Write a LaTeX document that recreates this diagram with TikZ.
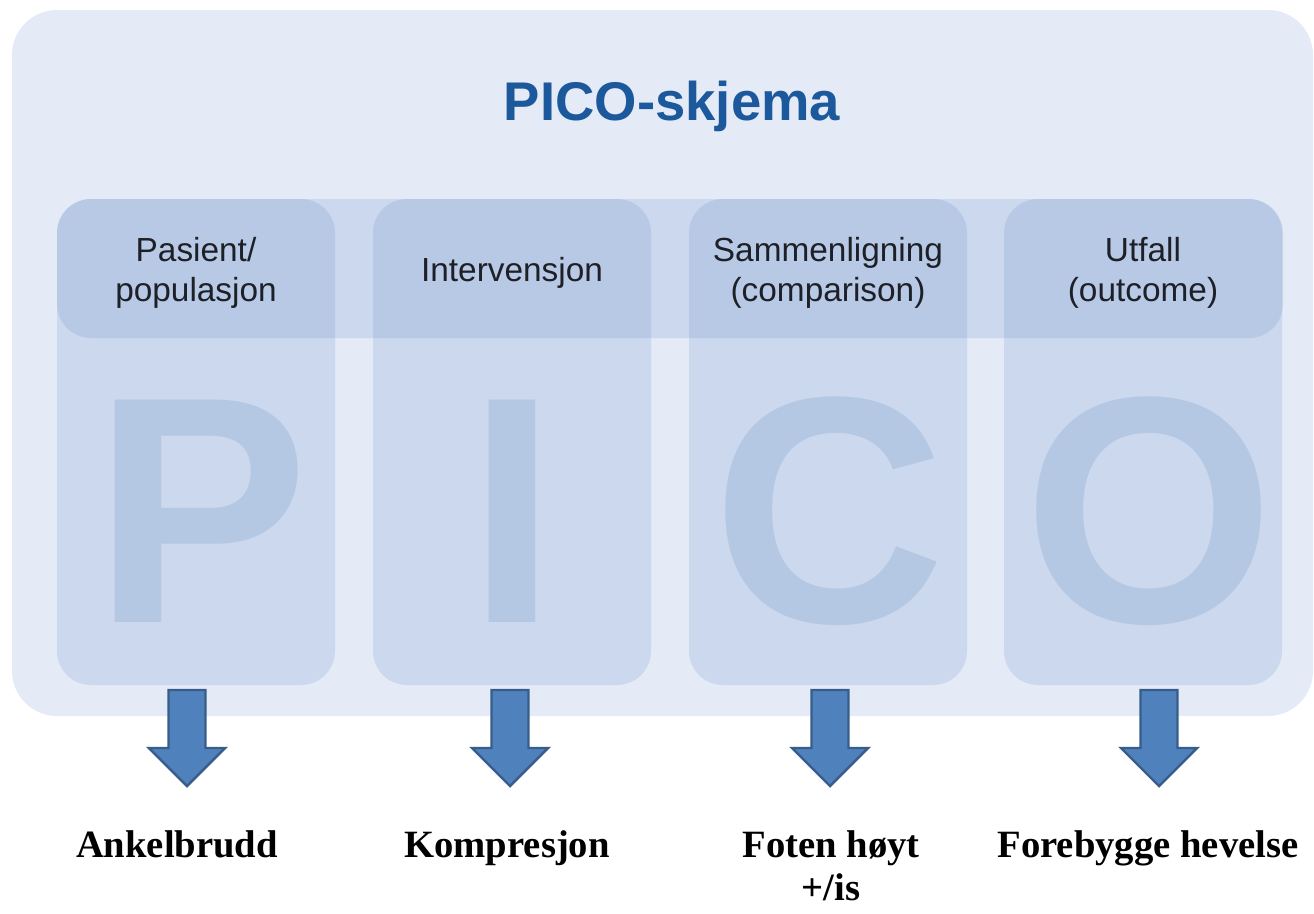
\documentclass[tikz,border=0pt]{standalone}
\usepackage{fontspec}
\setmainfont{Liberation Serif}
\setsansfont{Liberation Sans}

\definecolor{panelbg}{RGB}{228,234,246}
\definecolor{pcblue}{RGB}{60,110,185}
\definecolor{pcletter}{RGB}{181,200,227}
\definecolor{pctitle}{RGB}{27,88,156}
\definecolor{arrowfill}{RGB}{79,129,189}
\definecolor{arrowline}{RGB}{56,93,138}
\definecolor{hdtext}{RGB}{30,32,40}

\begin{document}
\begin{tikzpicture}[x=0.02cm,y=-0.02cm,inner sep=0pt,
        tint/.style={fill=pcblue, fill opacity=0.14, rounded corners=0.68cm},
        header/.style={text=hdtext, align=center, font=\sffamily\fontsize{19}{22.7}\selectfont},
        bigletter/.style={text=pcletter, font=\sffamily\bfseries\fontsize{184}{184}\selectfont},
        result/.style={anchor=base, align=center, font=\bfseries\fontsize{22}{24.4}\selectfont}]
        \useasboundingbox (0,0) rectangle (1314,913);

        % panel
        \fill [panelbg, rounded corners=0.9cm] (12,10) rectangle (1313,716);
        \node (title) [anchor=base, text=pctitle, font=\sffamily\bfseries\fontsize{31}{31}\selectfont] at (672,120) {PICO-skjema};

        % columns and header band
        \foreach \cx in {196,512,828,1143} {
                \fill [tint] (\cx-139,199) rectangle (\cx+139,685);
        }
        \fill [tint] (57,199) rectangle (1283,338);

        \node (hdP) [header] at (196,273) {Pasient/\\populasjon};
        \node (hdI) [header] at (512,273) {Intervensjon};
        \node (hdC) [header] at (828,273) {Sammenligning\\(comparison)};
        \node (hdO) [header] at (1143,273) {Utfall\\(outcome)};

        \foreach \cx/\ltr in {201/P,512/I,829/C,1149/O} {
                \node (big\ltr) [bigletter] at (\cx,511) {\ltr};
        }

        % arrows
        \foreach \ax in {187,510,830,1159} {
                \draw [arrowline, fill=arrowfill, line width=1.4pt]
                        (\ax-18.5,690) -- (\ax+18.5,690) -- (\ax+18.5,748) -- (\ax+38,748)
                        -- (\ax,786) -- (\ax-38,748) -- (\ax-18.5,748) -- cycle;
        }

        \node (resP) [result] at (177,857) {Ankelbrudd};
        \node (resI) [result] at (507,857) {Kompresjon};
        \node (resC) [result] at (831,900) {Foten høyt\\+/is};
        \node (resO) [result] at (1148,857) {Forebygge hevelse};

\end{tikzpicture}
\end{document}
